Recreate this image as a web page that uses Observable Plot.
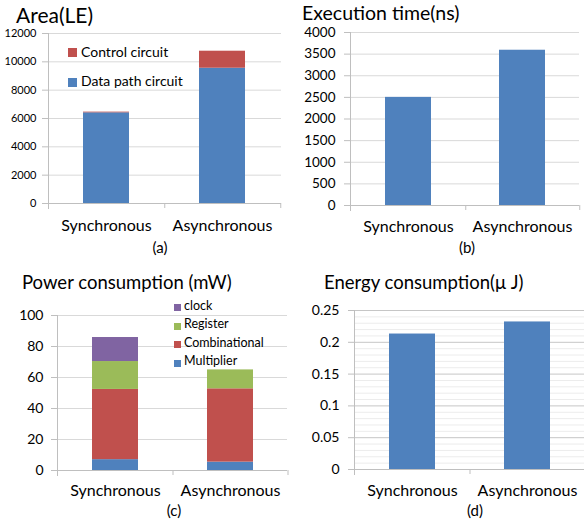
<!DOCTYPE html>
<html><head><meta charset="utf-8">
<script src="https://cdn.jsdelivr.net/npm/d3@7"></script>
<script src="https://cdn.jsdelivr.net/npm/@observablehq/plot@0.6"></script>
<style>
html,body{margin:0;padding:0;background:#fff;}
#root{position:relative;width:584px;height:524px;overflow:hidden;font-family:Lato,"Noto Sans",sans-serif;color:#000;}
.abs{position:absolute;white-space:nowrap;}
.sq{position:absolute;}
</style></head><body><div id="root"></div><script>
// ---- data ----
const categories = ["Synchronous", "Asynchronous"];

const areaSeries = ["Data path circuit", "Control circuit"];
const areaDataPath = [6400, 9550];
const areaControl = [50, 1200];
const areaTicks = [0, 2000, 4000, 6000, 8000, 10000, 12000];

const execTime = [2500, 3590];
const execTicks = [0, 500, 1000, 1500, 2000, 2500, 3000, 3500, 4000];

const powerSeries = ["Multiplier", "Combinational", "Register", "clock"];
const powerMultiplier = [7, 5.4];
const powerCombinational = [45.3, 47.3];
const powerRegister = [18, 12.2];
const powerClock = [15.5, 0];
const powerTicks = [0, 20, 40, 60, 80, 100];

const energy = [0.213, 0.232];
const energyTicks = [0, 0.05, 0.1, 0.15, 0.2, 0.25];
const energyMinorTicks = [0.01,0.02,0.03,0.04,0.06,0.07,0.08,0.09,0.11,0.12,0.13,0.14,0.16,0.17,0.18,0.19,0.21,0.22,0.23,0.24];

const titles = ["Area(LE)", "Execution time(ns)", "Power consumption (mW)", "Energy consumption(\u03bc J)"];
const captions = ["(a)", "(b)", "(c)", "(d)"];

// ---- style ----
const BLUE = "#4F81BD", RED = "#C0504D", GREEN = "#9BBB59", PURPLE = "#8064A2";
const GRID = "#d9d9d9", AXIS = "#bfbfbf";
const FONT = "Lato";
const root = document.getElementById("root");

function makePanel({left, top, width = 292, height = 262, ml, mr, mt, mb, yDomain, ticks, tickFontSize, tickPadding, xPad, marks, color, minor, gridColor = GRID}) {
  const step = (width - ml - mr) / 2;
  const chart = Plot.plot({
    width, height, marginLeft: ml, marginRight: mr, marginTop: mt, marginBottom: mb,
    style: {fontFamily: FONT, background: "transparent", overflow: "visible"},
    x: {domain: categories, paddingInner: 0.6, paddingOuter: 0.3},
    y: {domain: yDomain},
    color,
    marks: [
      minor ? Plot.gridY(minor, {stroke: "#ececec", strokeOpacity: 1}) : null,
      Plot.gridY(ticks, {stroke: gridColor, strokeOpacity: 1}),
      ...marks,
      Plot.ruleY([0], {stroke: AXIS}),
      Plot.frame({anchor: "left", stroke: AXIS, insetBottom: -5}),
      Plot.ruleX(categories, {x: d => d, dx: step / 2, y1: 0, y2: 0, insetBottom: -5, stroke: AXIS}),
      Plot.axisY({ticks, tickSize: 6, tickPadding, fontSize: tickFontSize, tickFormat: d => String(d), stroke: AXIS, fill: "#000", label: null}),
      Plot.axisX({tickSize: 0, tickPadding: xPad, fontSize: 16, fill: "#000", label: null})
    ]
  });
  chart.style.position = "absolute";
  chart.style.left = left + "px";
  chart.style.top = top + "px";
  root.appendChild(chart);
}

function addText(txt, x, baseline, size, center) {
  const d = document.createElement("div");
  d.className = "abs";
  d.textContent = txt;
  d.style.fontSize = size + "px";
  d.style.lineHeight = size + "px";
  d.style.left = x + "px";
  d.style.top = (baseline - 0.887 * size) + "px";
  if (center) d.style.transform = "translateX(-50%)";
  root.appendChild(d);
}
function addSquare(x, y, s, c) {
  const d = document.createElement("div");
  d.className = "sq";
  Object.assign(d.style, {left: x + "px", top: y + "px", width: s + "px", height: s + "px", background: c});
  root.appendChild(d);
}

// (a) Area
const areaTable = [];
[areaDataPath, areaControl].forEach((vals, si) => categories.forEach((c, i) => areaTable.push({cat: c, series: areaSeries[si], value: vals[i]})));
makePanel({left: 0, top: 0, ml: 48, mr: 11, mt: 33, mb: 59, yDomain: [0, 12000], ticks: areaTicks, tickFontSize: 11, tickPadding: 6, xPad: 16,
  color: {domain: areaSeries, range: [BLUE, RED]},
  marks: [Plot.barY(areaTable, {x: "cat", y: "value", fill: "series"})]});

// (b) Execution time
const execTable = categories.map((c, i) => ({cat: c, value: execTime[i]}));
makePanel({left: 292, top: 0, ml: 58, mr: 5, mt: 32, mb: 57, yDomain: [0, 4000], ticks: execTicks, tickFontSize: 13.5, tickPadding: 9, xPad: 15,
  marks: [Plot.barY(execTable, {x: "cat", y: "value", fill: BLUE})]});

// (c) Power
const powerTable = [];
[powerMultiplier, powerCombinational, powerRegister, powerClock].forEach((vals, si) => categories.forEach((c, i) => powerTable.push({cat: c, series: powerSeries[si], value: vals[i]})));
makePanel({left: 0, top: 262, ml: 57, mr: 5, mt: 53, mb: 54, yDomain: [0, 100], ticks: powerTicks, tickFontSize: 14, tickPadding: 8, xPad: 14,
  color: {domain: powerSeries, range: [BLUE, RED, GREEN, PURPLE]},
  marks: [Plot.barY(powerTable.filter(d => d.value > 0), {x: "cat", y: "value", fill: "series"})]});

// (d) Energy
const energyTable = categories.map((c, i) => ({cat: c, value: energy[i]}));
makePanel({left: 292, top: 262, ml: 62, mr: 0, mt: 48, mb: 55, yDomain: [0, 0.25], ticks: energyTicks, tickFontSize: 14, tickPadding: 9, xPad: 15,
  minor: energyMinorTicks, gridColor: "#c6c6c6",
  marks: [Plot.barY(energyTable, {x: "cat", y: "value", fill: BLUE})]});

// titles & captions
addText(titles[0], 16, 23, 21);
addText(titles[1], 302, 20.5, 19.5);
addText(titles[2], 22, 289, 18.5);
addText(titles[3], 324, 289, 18.5);
addText(captions[0], 160, 253, 15, true);
addText(captions[1], 467, 253, 15, true);
addText(captions[2], 174, 516, 15, true);
addText(captions[3], 475, 516, 15, true);

// legend (a)
const areaColors = [BLUE, RED];
[1, 0].forEach((si, row) => {
  addSquare(68, 48 + row * 30, 9, areaColors[si]);
  addText(areaSeries[si], 81, 57 + row * 29, 14);
});
// legend (c)
const powerColors = [BLUE, RED, GREEN, PURPLE];
[3, 2, 1, 0].forEach((si, row) => {
  addSquare(174, 304 + row * 18.7, 7, powerColors[si]);
  addText(powerSeries[si], 184, 311 + row * 18.5, 12.5);
});
</script></body></html>
